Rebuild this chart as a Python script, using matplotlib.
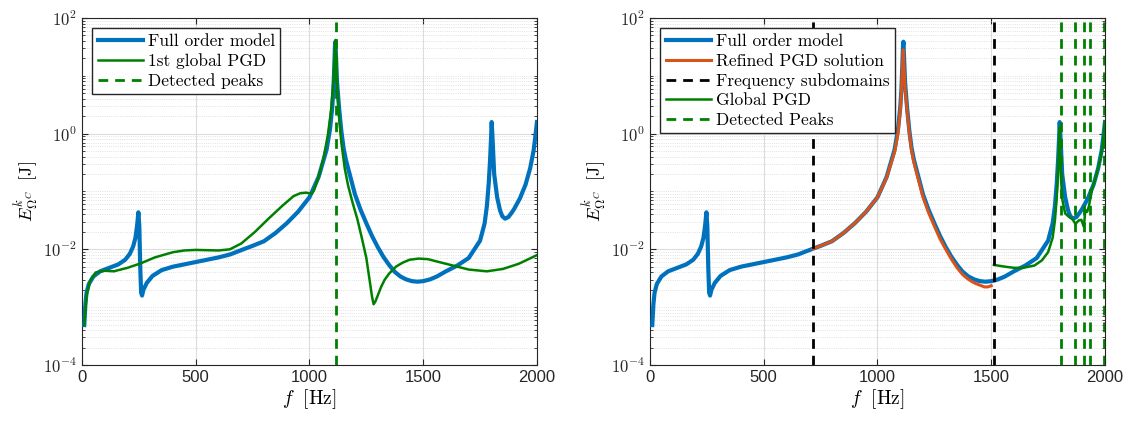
import numpy as np
import matplotlib
matplotlib.use("Agg")
import matplotlib.pyplot as plt
from matplotlib.ticker import FixedLocator, FuncFormatter, LogLocator, NullFormatter

plt.rcParams["font.family"] = ["Liberation Sans", "DejaVu Sans"]
plt.rcParams["mathtext.fontset"] = "cm"

# full order model, log10 of energy
fom_f = [10, 15, 20, 30, 50, 80, 120, 160, 190, 210, 225, 235, 242, 248, 252, 256, 260, 264,
         270, 285, 310, 350, 400, 500, 600, 650, 716, 750, 800, 850, 900, 950, 1000, 1040,
         1075, 1090, 1100, 1105, 1109, 1112, 1114, 1117, 1121, 1130, 1140, 1150, 1160, 1180,
         1200, 1225, 1250, 1275, 1300, 1325, 1350, 1375, 1400, 1425, 1450, 1475, 1500, 1530,
         1560, 1600, 1650, 1700, 1750, 1770, 1780, 1788, 1794, 1798, 1801, 1805, 1812, 1825,
         1838, 1848, 1860, 1875, 1890, 1900, 1925, 1950, 1970, 1985, 1993, 2000]
fom_e = [-3.31, -2.95, -2.75, -2.6, -2.47, -2.38, -2.32, -2.26, -2.18, -2.08, -1.95, -1.8,
         -1.6, -1.36, -1.6, -2.3, -2.75, -2.8, -2.7, -2.58, -2.46, -2.36, -2.3, -2.22, -2.14,
         -2.09, -1.99, -1.94, -1.86, -1.72, -1.55, -1.35, -1.1, -0.75, -0.28, 0.07, 0.45,
         0.75, 1.15, 1.5, 1.59, 1.3, 0.9, 0.45, 0.05, -0.25, -0.45, -0.75, -1.05, -1.32,
         -1.55, -1.77, -1.96, -2.13, -2.27, -2.39, -2.47, -2.52, -2.55, -2.56, -2.55, -2.52,
         -2.47, -2.38, -2.28, -2.15, -1.85, -1.55, -1.25, -0.86, -0.45, -0.1, 0.2, -0.1,
         -0.7, -1.1, -1.33, -1.43, -1.47, -1.44, -1.36, -1.3, -1.12, -0.88, -0.6, -0.3,
         -0.05, 0.2]

# first global PGD (left)
pgd1_f = [10, 20, 35, 60, 100, 140, 200, 260, 320, 400, 450, 500, 600, 650, 700, 760, 820,
          880, 930, 960, 985, 1010, 1020, 1040, 1060, 1080, 1095, 1105, 1110, 1114, 1118,
          1122, 1130, 1140, 1155, 1170, 1190, 1210, 1230, 1250, 1265, 1275, 1282, 1290, 1300,
          1315, 1330, 1350, 1380, 1410, 1440, 1480, 1520, 1600, 1700, 1780, 1850, 1920, 2000]
pgd1_e = [-3.31, -2.8, -2.55, -2.4, -2.37, -2.38, -2.32, -2.24, -2.14, -2.05, -2.02, -2.01,
          -2.02, -2.0, -1.9, -1.7, -1.47, -1.25, -1.08, -1.03, -1.02, -1.04, -0.98, -0.75,
          -0.45, -0.05, 0.4, 0.9, 1.3, 1.62, 1.2, 0.8, 0.3, -0.15, -0.6, -0.9, -1.2, -1.47,
          -1.8, -2.15, -2.55, -2.82, -2.95, -2.9, -2.8, -2.65, -2.53, -2.42, -2.3, -2.23,
          -2.18, -2.16, -2.17, -2.25, -2.35, -2.38, -2.34, -2.25, -2.1]
peaks_left = [1116]

# refined PGD solution (right)
ref_f = [716, 750, 800, 850, 900, 950, 1000, 1040, 1075, 1090, 1100, 1105, 1110, 1113, 1116,
         1120, 1130, 1140, 1150, 1160, 1180, 1200, 1225, 1250, 1275, 1300, 1325, 1350, 1375,
         1400, 1425, 1450, 1470, 1485, 1500]
ref_e = [-1.99, -1.94, -1.86, -1.72, -1.55, -1.35, -1.1, -0.76, -0.32, 0.0, 0.4, 0.7, 1.2,
         1.45, 1.2, 0.85, 0.4, 0.0, -0.3, -0.5, -0.8, -1.1, -1.37, -1.6, -1.82, -2.0, -2.17,
         -2.32, -2.44, -2.52, -2.58, -2.62, -2.65, -2.65, -2.63]

# global PGD on last subdomain (right)
glob_f = [1512, 1560, 1600, 1640, 1690, 1723, 1750, 1770, 1780, 1788, 1794, 1798, 1800,
          1803, 1807, 1813, 1825, 1845, 1856, 1870, 1885, 1896, 1907, 1914, 1922, 1929, 1944,
          1960, 1975, 1987, 1994, 2000]
glob_e = [-2.27, -2.3, -2.32, -2.32, -2.28, -2.19, -2.05, -1.8, -1.5, -1.1, -0.6, -0.15,
          0.1, -0.3, -0.8, -1.15, -1.38, -1.45, -1.47, -1.56, -1.5, -1.49, -1.61, -1.32,
          -1.35, -1.26, -0.95, -0.75, -0.52, -0.28, -0.05, 0.2]
subdomains = [716, 1512]
peaks_right = [1807, 1867, 1909, 1936, 1996]

blue = "#0072BD"
orange = "#D95319"
green = "#008000"
dash = (0, (3.5, 2.5))

fig = plt.figure(figsize=(11.34, 4.25), dpi=100)
ax1 = fig.add_axes([0.0723, 0.1412, 0.4012, 0.8165])
ax2 = fig.add_axes([0.5732, 0.1412, 0.4012, 0.8165])

p = lambda e: 10.0 ** np.array(e)

ax1.plot(fom_f, p(fom_e), color=blue, lw=3, label="Full order model", zorder=3)
ax1.plot(pgd1_f, p(pgd1_e), color=green, lw=1.8, label="1st global PGD", zorder=4)
for i, x in enumerate(peaks_left):
    ax1.axvline(x, color=green, lw=2, ls=dash, label="Detected peaks" if i == 0 else None, zorder=5)

ax2.plot(fom_f, p(fom_e), color=blue, lw=3, label="Full order model", zorder=3)
ax2.plot(ref_f, p(ref_e), color=orange, lw=2.2, label="Refined PGD solution", zorder=4)
for i, x in enumerate(subdomains):
    ax2.axvline(x, color="black", lw=2, ls=dash, label="Frequency subdomains" if i == 0 else None, zorder=5)
ax2.plot(glob_f, p(glob_e), color=green, lw=1.8, label="Global PGD", zorder=4)
for i, x in enumerate(peaks_right):
    ax2.axvline(x, color=green, lw=2, ls=dash, label="Detected Peaks" if i == 0 else None, zorder=5)

for ax in (ax1, ax2):
    ax.set_yscale("log")
    ax.set_xlim(0, 2000)
    ax.set_ylim(1e-4, 1e2)
    ax.set_xticks([0, 500, 1000, 1500, 2000])
    ax.yaxis.set_major_locator(FixedLocator([1e-4, 1e-2, 1e0, 1e2]))
    ax.yaxis.set_major_formatter(FuncFormatter(lambda v, pos: r"$\mathsf{10^{%d}}$" % round(np.log10(v))))
    ax.yaxis.set_minor_locator(LogLocator(base=10, subs=np.arange(1, 10), numticks=20))
    ax.yaxis.set_minor_formatter(NullFormatter())
    ax.tick_params(which="both", direction="in", top=True, right=True, labelsize=12,
                   labelcolor="#262626", color="#262626")
    ax.tick_params(which="major", length=4)
    ax.tick_params(which="minor", length=2)
    ax.grid(True, which="major", color="#dcdcdc", lw=0.8)
    ax.grid(True, which="minor", axis="y", color="#d8d8d8", lw=0.6, ls=":")
    ax.set_axisbelow(True)
    for s in ax.spines.values():
        s.set_color("#262626")
        s.set_linewidth(0.8)
    ax.set_xlabel(r"$f\ \ [\mathrm{Hz}]$", fontsize=14, labelpad=2)
    ax.set_ylabel(r"$E^{k}_{\Omega^{C}}\ \ [\mathrm{J}]$", fontsize=13, labelpad=2)
    ax.legend(loc="upper left", prop={"family": "cmr10", "size": 12.5}, fancybox=False,
              edgecolor="#262626", framealpha=1, handlelength=2.6, borderaxespad=0.6,
              labelspacing=0.25, handletextpad=0.3, borderpad=0.3)

fig.savefig("out.png", dpi=100)
